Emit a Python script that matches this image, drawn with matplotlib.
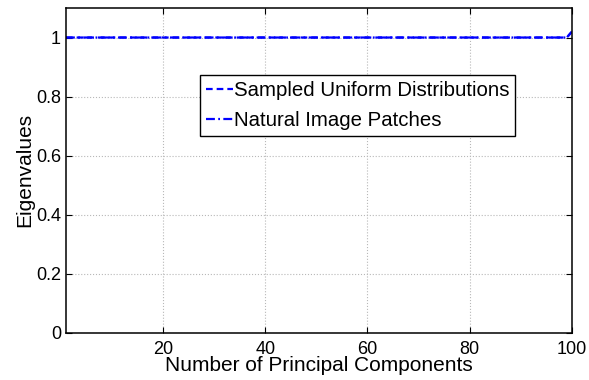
import matplotlib
matplotlib.use('Agg')
import matplotlib.pyplot as plt
import numpy as np

plt.rcParams['font.family'] = ['Liberation Sans', 'DejaVu Sans']

# eigenvalues (normalised), flat at 1 with a small rise at the last component
components = np.arange(1, 101)
uniform_eig = [1.0] * 98 + [1.0, 1.02]
natural_eig = [1.0] * 98 + [1.0, 1.02]
legend_labels = ['Sampled Uniform Distributions', 'Natural Image Patches']

fig = plt.figure(figsize=(5.89, 3.80), dpi=100)
ax = fig.add_axes([0.112, 0.124, 0.859, 0.855])

ax.plot(components, uniform_eig, color='blue', linestyle=(0, (3, 1.8)), linewidth=1.6, label=legend_labels[0])
ax.plot(components, natural_eig, color='blue', linestyle=(0, (4, 1.5, 0.8, 1.5)), linewidth=1.6, label=legend_labels[1])

ax.set_xlim(1, 100)
ax.set_ylim(0, 1.1)
ax.set_xticks([20, 40, 60, 80, 100])
ax.set_yticks([0, 0.2, 0.4, 0.6, 0.8, 1])
ax.set_yticklabels(['0', '0.2', '0.4', '0.6', '0.8', '1'])
ax.grid(True, color='#b8b8b8', linestyle=':', linewidth=0.8)
ax.tick_params(direction='in', length=4, labelsize=13, top=True, right=True, pad=3.5)
ax.tick_params(axis='x', pad=5.5)
for s in ax.spines.values():
    s.set_linewidth(1.1)

ax.set_xlabel('Number of Principal Components', fontsize=15, labelpad=-1)
ax.set_ylabel('Eigenvalues', fontsize=15, labelpad=1)

leg = ax.legend(loc='upper left', bbox_to_anchor=(0.265, 0.794), fontsize=14.7, handlelength=1.3,
                handletextpad=0.05, borderpad=0.3, labelspacing=0.55, fancybox=False, framealpha=1,
                edgecolor='black', borderaxespad=0)
leg.get_frame().set_linewidth(1.0)

fig.savefig('out.png', dpi=100)
